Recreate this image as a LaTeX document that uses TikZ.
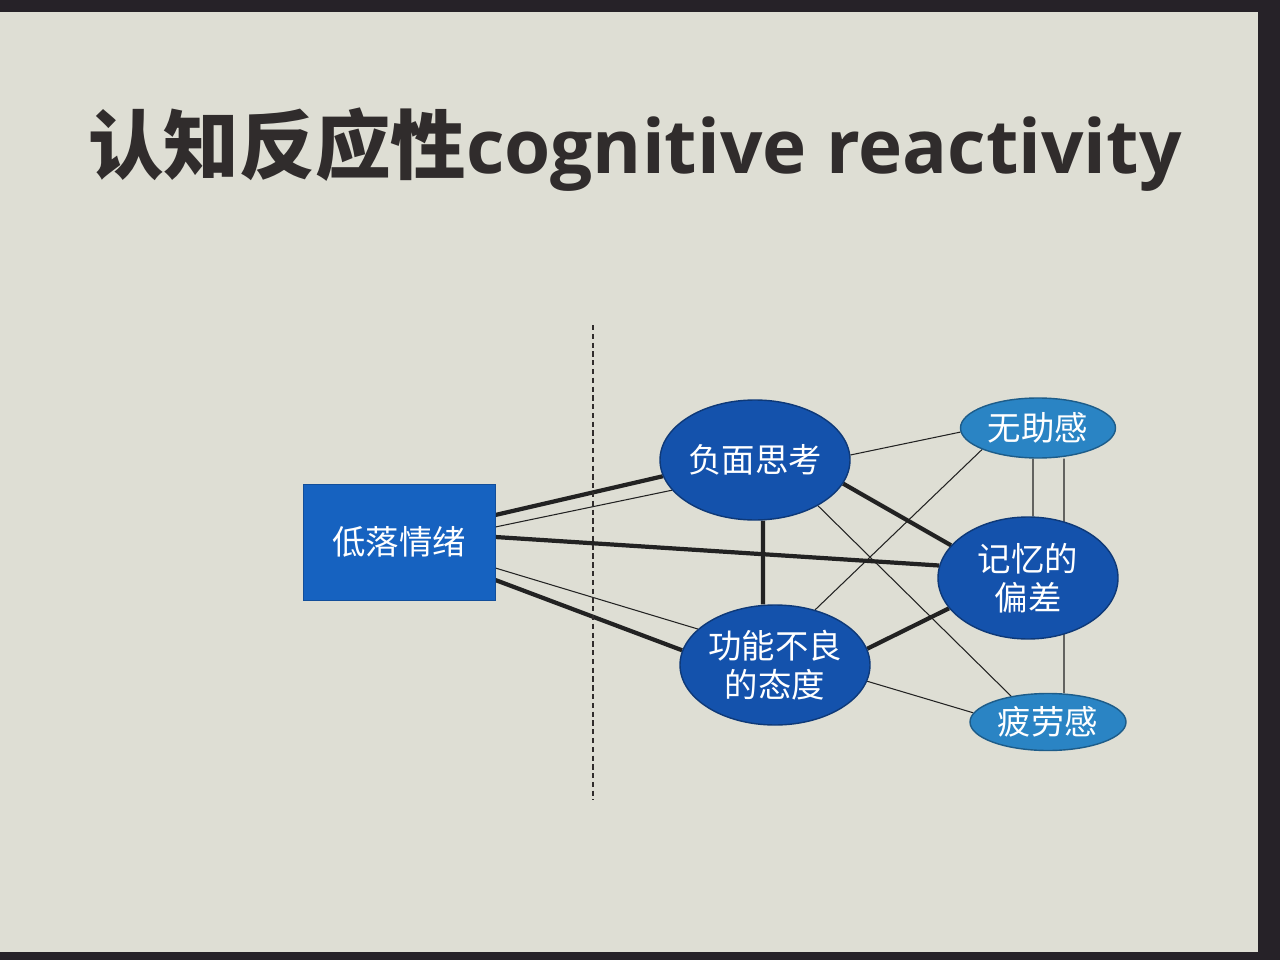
\documentclass[tikz,border=0pt]{standalone}
\usepackage{fontspec}
\usepackage{tikz}
\usetikzlibrary{positioning,shapes.geometric}
\newfontfamily\cjk{Noto Sans CJK SC}
\newfontfamily\latinbold{Open Sans}
\definecolor{slidebg}{RGB}{222,222,212}
\definecolor{frame}{RGB}{38,34,40}
\definecolor{titlegray}{RGB}{48,44,44}
\definecolor{boxblue}{RGB}{22,98,192}
\definecolor{deepblue}{RGB}{20,82,172}
\definecolor{skyblue}{RGB}{42,132,196}
\definecolor{linkgray}{RGB}{34,34,34}
\pgfdeclarelayer{bg}
\pgfdeclarelayer{links}
\pgfsetlayers{bg,links,main}

\begin{document}
\begin{tikzpicture}[
    mood/.style={draw=boxblue!80!black, fill=boxblue, minimum width=3.84cm, minimum height=2.32cm,
                 inner sep=0pt, text=white, font=\cjk\fontsize{19pt}{23pt}\selectfont},
    bigoval/.style={ellipse, draw=deepblue!70!black, line width=0.8pt, fill=deepblue, inner sep=0pt,
                    align=center, text=white, font=\cjk\fontsize{19pt}{22pt}\selectfont},
    smalloval/.style={ellipse, draw=skyblue!70!black, line width=0.8pt, fill=skyblue, inner sep=0pt,
                      text=white, font=\cjk\fontsize{19pt}{22pt}\selectfont},
    strong/.style={draw=linkgray, line width=2.4pt},
    weak/.style={draw=linkgray, line width=0.6pt}
]
% slide photo background
\begin{pgfonlayer}{bg}
\fill[slidebg] (0,0) rectangle (25.6,-19.2);
\fill[frame] (0,0) rectangle (25.6,-0.24);
\fill[frame] (25.16,0) rectangle (25.6,-19.2);
\fill[frame] (0,-19.04) rectangle (25.6,-19.2);
\end{pgfonlayer}

% title
\node[anchor=base west, inner sep=0pt, text=titlegray] (title) at (1.76,-3.48)
    {{\cjk\bfseries\fontsize{43pt}{48pt}\selectfont 认知反应性}{\latinbold\bfseries\fontsize{42.5pt}{48pt}\selectfont cognitive reactivity}};

% divider
\coordinate (dtop) at (11.86,-6.5);
\coordinate (dbot) at (11.86,-16.0);
\draw[densely dashed, line width=0.6pt, draw=titlegray] (dtop) -- (dbot);

% nodes
\node[mood]                                           (low)  at (7.98,-10.84)  {低落情绪};
\node[bigoval, minimum width=3.8cm, minimum height=2.4cm]   (neg)  at (15.1,-9.2)   {负面思考};
\node[bigoval, minimum width=3.8cm, minimum height=2.4cm]   (dys)  at (15.5,-13.3)  {功能不良\\的态度};
\node[bigoval, minimum width=3.6cm, minimum height=2.44cm]  (mem)  at (20.56,-11.56) {记忆的\\偏差};
\node[smalloval, minimum width=3.1cm, minimum height=1.2cm]  (help) at (20.76,-8.56)  {无助感};
\node[smalloval, minimum width=3.12cm, minimum height=1.14cm] (fat) at (20.96,-14.44) {疲劳感};

% links
\begin{pgfonlayer}{links}
\draw[strong] ([yshift=0.54cm]low.east) -- (neg.190);
\draw[weak]   ([yshift=0.30cm]low.east) -- (neg.200);
\draw[strong] ([yshift=0.10cm]low.east) -- (mem.172);
\draw[weak]   ([yshift=-0.52cm]low.east) -- (dys.155);
\draw[strong] ([yshift=-0.76cm]low.east) -- (dys.171);
\draw[strong] ([xshift=0.16cm]neg.south) -- ([xshift=-0.24cm]dys.north);
\draw[weak]   (neg.3) -- (help.183);
\draw[strong] (neg.-15) -- (mem.157);
\draw[weak]   (neg.-36) -- (fat.145);
\draw[weak]   (dys.54) -- (help.201);
\draw[strong] (dys.10) -- (mem.201);
\draw[weak]   (dys.-10) -- (fat.173);
\draw[weak]   ([xshift=-0.1cm]help.south) -- ([xshift=0.1cm]mem.north);
\draw[weak]   ([xshift=0.52cm]help.south) -- ([xshift=0.32cm]fat.north);
\end{pgfonlayer}
\end{tikzpicture}
\end{document}
